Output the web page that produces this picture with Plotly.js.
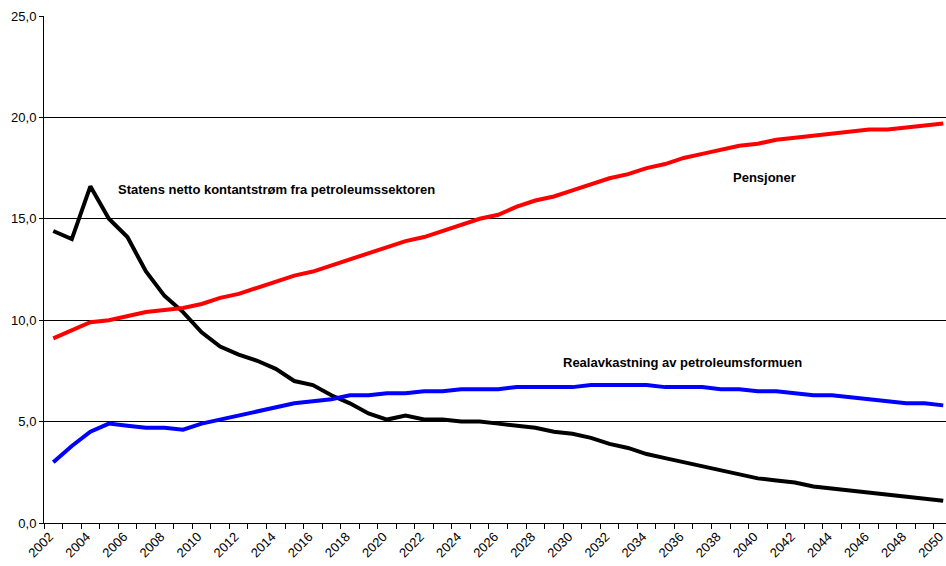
<!DOCTYPE html>
<html>
<head>
<meta charset="utf-8">
<script src="https://cdn.plot.ly/plotly-3.0.1.min.js"></script>
<style>html,body{margin:0;padding:0;background:#fff;}#chart{width:946px;height:566px;}</style>
</head>
<body>
<div id="chart"></div>
<script>
const years = [2002,2003,2004,2005,2006,2007,2008,2009,2010,2011,2012,2013,2014,2015,2016,2017,2018,2019,2020,2021,2022,2023,2024,2025,2026,2027,2028,2029,2030,2031,2032,2033,2034,2035,2036,2037,2038,2039,2040,2041,2042,2043,2044,2045,2046,2047,2048,2049,2050];

const kontantstrom = [14.4,14.0,16.6,15.0,14.1,12.4,11.2,10.4,9.4,8.7,8.3,8.0,7.6,7.0,6.8,6.3,5.9,5.4,5.1,5.3,5.1,5.1,5.0,5.0,4.9,4.8,4.7,4.5,4.4,4.2,3.9,3.7,3.4,3.2,3.0,2.8,2.6,2.4,2.2,2.1,2.0,1.8,1.7,1.6,1.5,1.4,1.3,1.2,1.1];

const pensjoner = [9.1,9.5,9.9,10.0,10.2,10.4,10.5,10.6,10.8,11.1,11.3,11.6,11.9,12.2,12.4,12.7,13.0,13.3,13.6,13.9,14.1,14.4,14.7,15.0,15.2,15.6,15.9,16.1,16.4,16.7,17.0,17.2,17.5,17.7,18.0,18.2,18.4,18.6,18.7,18.9,19.0,19.1,19.2,19.3,19.4,19.4,19.5,19.6,19.7];

const realavkastning = [3.0,3.8,4.5,4.9,4.8,4.7,4.7,4.6,4.9,5.1,5.3,5.5,5.7,5.9,6.0,6.1,6.3,6.3,6.4,6.4,6.5,6.5,6.6,6.6,6.6,6.7,6.7,6.7,6.7,6.8,6.8,6.8,6.8,6.7,6.7,6.7,6.6,6.6,6.5,6.5,6.4,6.3,6.3,6.2,6.1,6.0,5.9,5.9,5.8];

const tickYears = years.filter(y => y % 2 === 0);
const tickLabels = tickYears.map(String);
const yTicks = [0,5,10,15,20,25];

const seriesNames = ["Statens netto kontantstrøm fra petroleumssektoren","Pensjoner","Realavkastning av petroleumsformuen"];

const traces = [
  {x: years, y: kontantstrom, name: seriesNames[0], type: 'scatter', mode: 'lines', line: {color: '#000000', width: 4}},
  {x: years, y: pensjoner, name: seriesNames[1], type: 'scatter', mode: 'lines', line: {color: '#ff0000', width: 4}},
  {x: years, y: realavkastning, name: seriesNames[2], type: 'scatter', mode: 'lines', line: {color: '#0000ff', width: 4}}
];

const tickFont = {family: 'Liberation Sans, Arial, sans-serif', size: 13, color: '#000'};
const annFont = {family: 'Liberation Sans, Arial, sans-serif', size: 13, color: '#000'};

const layout = {
  width: 946, height: 566,
  margin: {l: 44, r: 0, t: 16, b: 43, pad: 0},
  paper_bgcolor: '#fff', plot_bgcolor: '#fff',
  showlegend: false,
  separators: ',.',
  font: tickFont,
  xaxis: {
    type: 'linear', range: [2001.5, 2050.15],
    tickmode: 'array', tickvals: tickYears.map(y => y - 0.2), ticktext: tickLabels,
    tickangle: -45, ticks: '', showgrid: false, zeroline: false,
    ticklabeloverflow: 'allow',
    showline: true, linecolor: '#000', linewidth: 1,
    tickfont: tickFont,
    minor: {tick0: 2001.5, dtick: 1, ticks: 'outside', ticklen: 5, tickcolor: '#000', tickwidth: 1, showgrid: false}
  },
  yaxis: {
    range: [0, 25], tickmode: 'array', tickvals: yTicks,
    tickformat: '.1f', ticks: 'outside', ticklen: 4, tickcolor: '#000',
    showgrid: true, gridcolor: '#000', gridwidth: 1, zeroline: false,
    showline: true, linecolor: '#000', linewidth: 1,
    tickfont: tickFont
  },
  annotations: [
    {x: 2005.4, y: 16.45, xref: 'x', yref: 'y', text: '<b>' + seriesNames[0] + '</b>', showarrow: false, xanchor: 'left', yanchor: 'middle', font: annFont},
    {x: 2038.54, y: 17.05, xref: 'x', yref: 'y', text: '<b>' + seriesNames[1] + '</b>', showarrow: false, xanchor: 'left', yanchor: 'middle', font: annFont},
    {x: 2029.4, y: 7.93, xref: 'x', yref: 'y', text: '<b>' + seriesNames[2] + '</b>', showarrow: false, xanchor: 'left', yanchor: 'middle', font: annFont}
  ]
};

Plotly.newPlot('chart', traces, layout, {displayModeBar: false, staticPlot: true});
</script>
</body>
</html>
